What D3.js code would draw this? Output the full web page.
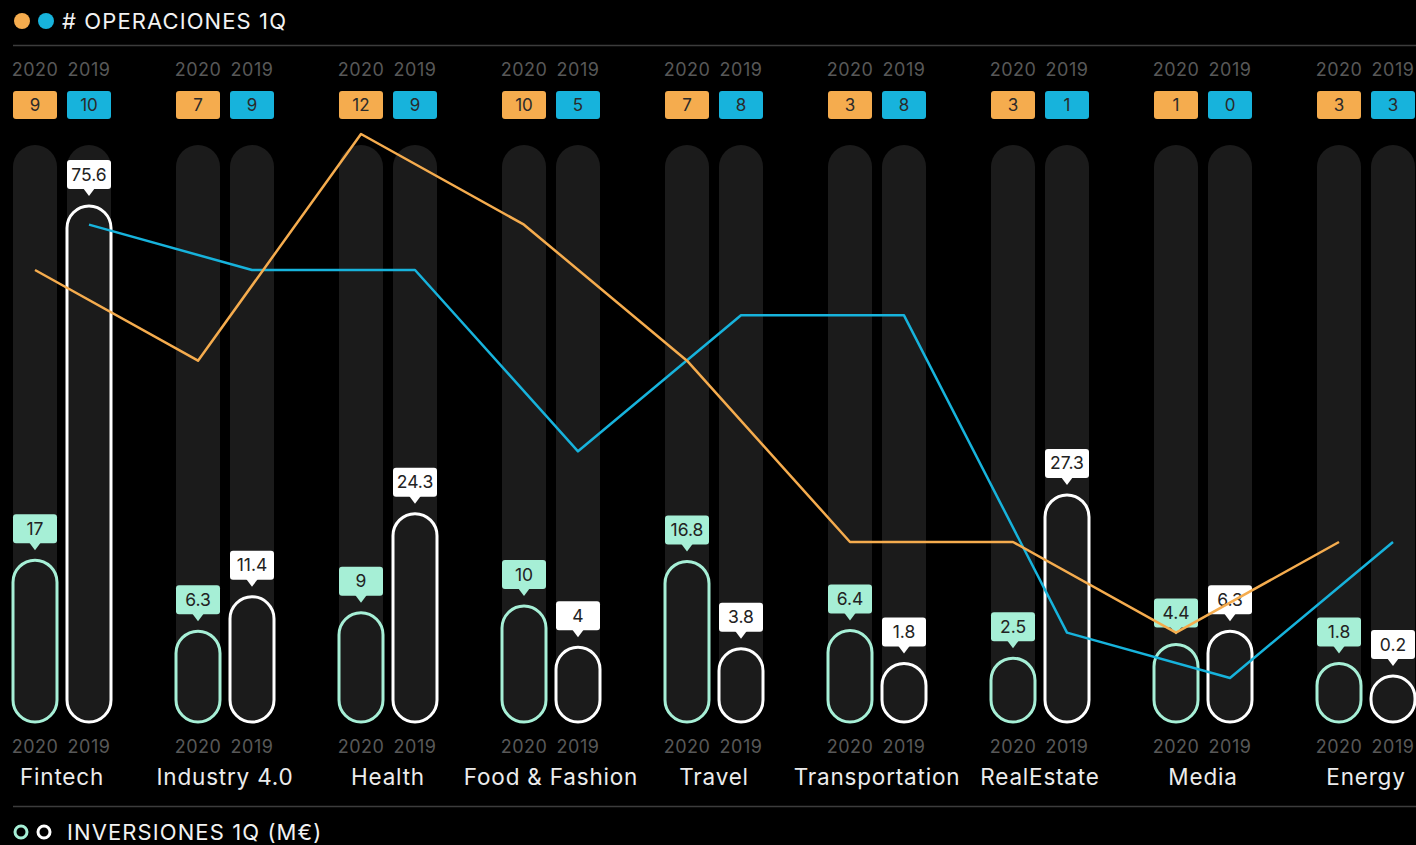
<!DOCTYPE html>
<html>
<head>
<meta charset="utf-8">
<script src="https://cdn.jsdelivr.net/npm/d3@7/dist/d3.min.js"></script>
<style>
  html, body { margin: 0; padding: 0; background: #000; }
  svg { display: block; }
  text { font-family: Inter, "Noto Sans", sans-serif; }
</style>
</head>
<body>
<svg id="chart" width="1416" height="845"></svg>
<script>
const categories = ["Fintech", "Industry 4.0", "Health", "Food & Fashion", "Travel", "Transportation", "RealEstate", "Media", "Energy"];
const years = ["2020", "2019"];
const ops2020 = [9, 7, 12, 10, 7, 3, 3, 1, 3];
const ops2019 = [10, 9, 9, 5, 8, 8, 1, 0, 3];
const inv2020 = [17, 6.3, 9, 10, 16.8, 6.4, 2.5, 4.4, 1.8];
const inv2019 = [75.6, 11.4, 24.3, 4, 3.8, 1.8, 27.3, 6.3, 0.2];

const C = {
  orange: "#f5ac4e",
  cyan: "#17b3dc",
  mint: "#a6efd6",
  white: "#ffffff",
  track: "#1b1b1b",
  gray: "#585858",
  sep: "#3c3c3c"
};

const svg = d3.select("#chart");
const W = 1416;

const x = d3.scalePoint().domain(categories).range([62, 62 + 163 * 8]);
const off = 27;             // half distance between the two bars of a group
const bw = 44;              // bar width
const baseY = 722;
const trackTop = 145;
const minH = bw;

const yOps = d3.scaleLinear().domain([0, 12]).range([678, 134]);
const hInv = d3.scalePow().exponent(0.93).domain([0, 75.6]).range([0, 472]);

// header
svg.append("circle").attr("cx", 22).attr("cy", 21).attr("r", 8).attr("fill", C.orange);
svg.append("circle").attr("cx", 46).attr("cy", 21).attr("r", 8).attr("fill", C.cyan);
svg.append("text").attr("x", 62).attr("y", 29).attr("fill", "#f2f2f2")
  .attr("font-size", 22).attr("letter-spacing", 1.1).text("# OPERACIONES 1Q");
svg.append("line").attr("x1", 13).attr("x2", W).attr("y1", 45.5).attr("y2", 45.5)
  .attr("stroke", C.sep).attr("stroke-width", 1.5);

// footer
svg.append("line").attr("x1", 13).attr("x2", W).attr("y1", 806.5).attr("y2", 806.5)
  .attr("stroke", C.sep).attr("stroke-width", 1.5);
svg.append("circle").attr("cx", 21).attr("cy", 832).attr("r", 6).attr("fill", "none")
  .attr("stroke", C.mint).attr("stroke-width", 3);
svg.append("circle").attr("cx", 44).attr("cy", 832).attr("r", 6).attr("fill", "none")
  .attr("stroke", C.white).attr("stroke-width", 3);
svg.append("text").attr("x", 67).attr("y", 840).attr("fill", "#f2f2f2")
  .attr("font-size", 22).attr("letter-spacing", 1.1).text("INVERSIONES 1Q (M€)");

// data rows
const rows = categories.map((c, i) => ({
  cat: c,
  bars: [
    { year: "2020", dx: -off, ops: ops2020[i], inv: inv2020[i], opsColor: C.orange, invColor: C.mint },
    { year: "2019", dx: off, ops: ops2019[i], inv: inv2019[i], opsColor: C.cyan, invColor: C.white }
  ]
}));

const g = svg.append("g");
const groups = g.selectAll("g.grp").data(rows).join("g").attr("class", "grp")
  .attr("transform", d => `translate(${x(d.cat)},0)`);

// year labels top and bottom
groups.each(function(d) {
  const sel = d3.select(this);
  d.bars.forEach(b => {
    sel.append("text").attr("x", b.dx).attr("y", 76).attr("text-anchor", "middle")
      .attr("fill", C.gray).attr("font-size", 18).attr("letter-spacing", 0.5).text(b.year);
    sel.append("text").attr("x", b.dx).attr("y", 753).attr("text-anchor", "middle")
      .attr("fill", C.gray).attr("font-size", 18).attr("letter-spacing", 0.5).text(b.year);
    // count boxes
    sel.append("rect").attr("x", b.dx - bw / 2).attr("y", 91).attr("width", bw).attr("height", 28)
      .attr("rx", 3).attr("fill", b.opsColor);
    sel.append("text").attr("x", b.dx).attr("y", 111).attr("text-anchor", "middle")
      .attr("fill", "#2a2a2a").attr("font-size", 17).text(b.ops);
    // track
    sel.append("rect").attr("x", b.dx - bw / 2).attr("y", trackTop).attr("width", bw)
      .attr("height", baseY - trackTop).attr("rx", bw / 2).attr("fill", C.track);
    // pill
    const h = minH + hInv(b.inv);
    sel.append("rect").attr("x", b.dx - bw / 2).attr("y", baseY - h).attr("width", bw)
      .attr("height", h).attr("rx", bw / 2).attr("fill", C.track)
      .attr("stroke", b.invColor).attr("stroke-width", 3);
  });
  sel.append("text").attr("x", 0).attr("y", 785).attr("text-anchor", "middle")
    .attr("fill", "#ececec").attr("font-size", 22.5).attr("letter-spacing", 0.8).text(d.cat);
});

// lines
const line = d3.line().x(d => d.x).y(d => yOps(d.v));
const pts2019 = rows.map(r => ({ x: x(r.cat) + off, v: r.bars[1].ops }));
const pts2020 = rows.map(r => ({ x: x(r.cat) - off, v: r.bars[0].ops }));
g.append("path").attr("d", line(pts2019)).attr("fill", "none")
  .attr("stroke", C.cyan).attr("stroke-width", 2.5).attr("stroke-linejoin", "round");
g.append("path").attr("d", line(pts2020)).attr("fill", "none")
  .attr("stroke", C.orange).attr("stroke-width", 2.5).attr("stroke-linejoin", "round");

// value labels
groups.each(function(d) {
  const sel = d3.select(this);
  d.bars.forEach(b => {
    const h = minH + hInv(b.inv);
    const top = baseY - h;
    const by = top - 17;       // bottom of label box
    const lg = sel.append("g").attr("transform", `translate(${b.dx},${by})`);
    lg.append("rect").attr("x", -22).attr("y", -29).attr("width", 44).attr("height", 29)
      .attr("rx", 3).attr("fill", b.invColor);
    lg.append("path").attr("d", "M-6,-1 L0,7 L6,-1 Z").attr("fill", b.invColor);
    lg.append("text").attr("x", 0).attr("y", -8.5).attr("text-anchor", "middle")
      .attr("fill", "#222").attr("font-size", 17.5).text(b.inv);
  });
});
</script>
</body>
</html>
